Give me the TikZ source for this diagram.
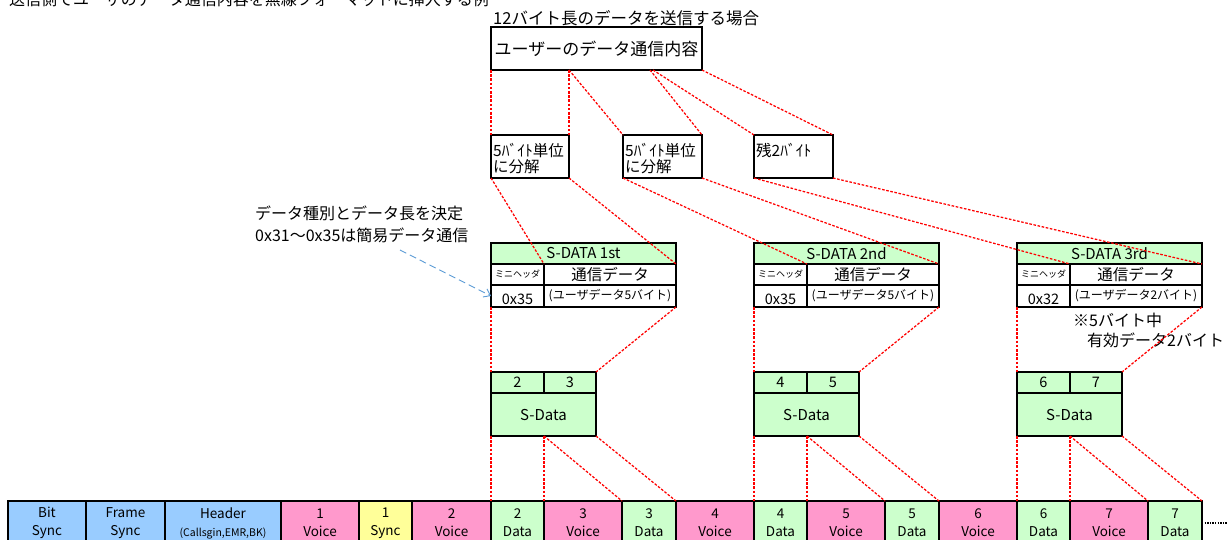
\documentclass[tikz,border=0pt]{standalone}
\usepackage{fontspec}
\setmainfont{Noto Sans CJK JP}
\usetikzlibrary{arrows.meta,calc}
\definecolor{cblue}{HTML}{99CCFF}
\definecolor{cpink}{HTML}{FF99CC}
\definecolor{cyel}{HTML}{FFFF99}
\definecolor{cgreen}{HTML}{CCFFCC}
\definecolor{carrow}{HTML}{5B9BD5}
\definecolor{cred}{HTML}{FF0000}
\newcommand{\myfs}[1]{\fontsize{#1}{#1}\selectfont}
\begin{document}
\begin{tikzpicture}[x=1pt,y=-1pt,
  bx/.style={draw=black,line width=1.6pt,inner sep=0pt,outer sep=0pt,anchor=north west},
  rl/.style={draw=cred,line width=1.25pt,dash pattern=on 2.6pt off 1.6pt},
  lbl/.style={inner sep=0pt,anchor=base west},
  cell/.style={bx,minimum height=44pt,align=center,font={\fontsize{13.5}{18}\selectfont}},
  tb/.style={bx,minimum height=21pt},
  dotline/.style={draw=black,line width=2.6pt,dash pattern=on 1.3pt off 1.3pt}]
\useasboundingbox (0,0) rectangle (1228,540);

% title (cut at top, as in the reference)
\node[lbl,font=\myfs{16}] (title) at (9,6) {送信側でユーザのデータ通信内容を無線フォーマットに挿入する例};
\node[lbl,font=\myfs{16.5}] (sub) at (493,25) {12バイト長のデータを送信する場合};

% main box
\node[bx,minimum width=211pt,minimum height=43pt,font=\myfs{17}] (main) at (491,27) {ユーザーのデータ通信内容};

% split boxes
\node[bx,minimum width=78pt,minimum height=43pt] (b1) at (491,135) {};
\node[bx,minimum width=79pt,minimum height=43pt] (b2) at (623,135) {};
\node[bx,minimum width=79pt,minimum height=43pt] (b3) at (754,135) {};
\node[lbl,font=\myfs{15.5}] (b1t1) at (493,157) {5ﾊﾞｲﾄ単位};
\node[lbl,font=\myfs{15.5}] (b1t2) at (493,173) {に分解};
\node[lbl,font=\myfs{15.5}] (b2t1) at (625,157) {5ﾊﾞｲﾄ単位};
\node[lbl,font=\myfs{15.5}] (b2t2) at (625,173) {に分解};
\node[lbl,font=\myfs{15.5}] (b3t1) at (756,157) {残2ﾊﾞｲﾄ};

% annotation
\node[lbl,font=\myfs{16}] (ann1) at (255,219) {データ種別とデータ長を決定};
\node[lbl,font=\myfs{16}] (ann2) at (255,241) {0x31～0x35は簡易データ通信};
\coordinate (arrs) at (400,250);

% S-DATA tables and S-Data blocks
\foreach \X/\i/\ord/\hd/\n in {491/1/1st/0x35/5, 754/2/2nd/0x35/5, 1017/3/3rd/0x32/2}{
  \node[tb,fill=cgreen,minimum width=185pt,font=\myfs{15}] (h\i) at (\X,243) {S-DATA \ord};
  \node[tb,minimum width=53pt,font=\myfs{9}] (m\i) at (\X,264) {ミニヘッダ};
  \node[tb,minimum width=132pt,font=\myfs{15.5}] (d\i) at (\X+53,264) {通信データ};
  \node[bx,minimum width=53pt,minimum height=22pt] (v\i) at (\X,285) {};
  \node[font=\myfs{14.5}] (vt\i) at ($(v\i.center)+(0,3)$) {\hd};
  \node[bx,minimum width=132pt,minimum height=22pt,font=\myfs{12}] (e\i) at (\X+53,285) {(ユーザデータ\n バイト)};
  \node[tb,fill=cgreen,minimum width=53pt] (sa\i) at (\X,372) {};
  \node[tb,fill=cgreen,minimum width=52pt] (sb\i) at (\X+53,372) {};
  \node[bx,fill=cgreen,minimum width=105pt,minimum height=43pt,font=\myfs{15}] (sc\i) at (\X,393) {S-Data};
}
\node[font=\myfs{14.5}] (n2) at (sa1) {2};
\node[font=\myfs{14.5}] (n3) at (sb1) {3};
\node[font=\myfs{14.5}] (n4) at (sa2) {4};
\node[font=\myfs{14.5}] (n5) at (sb2) {5};
\node[font=\myfs{14.5}] (n6) at (sa3) {6};
\node[font=\myfs{14.5}] (n7) at (sb3) {7};

\node[lbl,font=\myfs{16}] (note1) at (1073,326) {※5バイト中};
\node[lbl,font=\myfs{16}] (note2) at (1087,346) {有効データ2バイト};

% bottom frame row
\node[cell,fill=cblue,minimum width=78pt] (BS) at (8,501) {Bit\\Sync};
\node[cell,fill=cblue,minimum width=79pt] (FS) at (86,501) {Frame\\Sync};
\node[cell,fill=cblue,minimum width=116pt] (HD) at (165,501) {Header\\{\fontsize{10.5}{12}\selectfont (Callsgin,EMR,BK)}};
\node[cell,fill=cpink,minimum width=78pt] (V1) at (281,501) {1\\Voice};
\node[cell,fill=cyel,minimum width=53pt] (S1) at (359,501) {1\\Sync};
\node[cell,fill=cpink,minimum width=79pt] (V2) at (412,501) {2\\Voice};
\node[cell,fill=cgreen,minimum width=53pt] (D2) at (491,501) {2\\Data};
\node[cell,fill=cpink,minimum width=78pt] (V3) at (544,501) {3\\Voice};
\node[cell,fill=cgreen,minimum width=54pt] (D3) at (622,501) {3\\Data};
\node[cell,fill=cpink,minimum width=78pt] (V4) at (676,501) {4\\Voice};
\node[cell,fill=cgreen,minimum width=53pt] (D4) at (754,501) {4\\Data};
\node[cell,fill=cpink,minimum width=78pt] (V5) at (807,501) {5\\Voice};
\node[cell,fill=cgreen,minimum width=54pt] (D5) at (885,501) {5\\Data};
\node[cell,fill=cpink,minimum width=78pt] (V6) at (939,501) {6\\Voice};
\node[cell,fill=cgreen,minimum width=53pt] (D6) at (1017,501) {6\\Data};
\node[cell,fill=cpink,minimum width=78pt] (V7) at (1070,501) {7\\Voice};
\node[cell,fill=cgreen,minimum width=54pt] (D7) at (1148,501) {7\\Data};
\coordinate (dotend) at (1232,523);
\draw[dotline] (D7.east) -- (dotend);

% red dashed connectors
\coordinate (mA) at (569,70);
\coordinate (mB) at (650,70);
\coordinate (mC) at (653,70);
\draw[rl] (main.south west) -- (b1.north west);
\draw[rl] (mA) -- (b1.north east);
\draw[rl] (mA) -- (b2.north west);
\draw[rl] (mB) -- (b2.north east);
\draw[rl] (mC) -- (b3.north west);
\draw[rl] (main.south east) -- (b3.north east);

\draw[rl] (b1.south west) -- (d1.north west);
\draw[rl] (b1.south east) -- (d1.north east);
\draw[rl] (b2.south west) -- (d2.north west);
\draw[rl] (b2.south east) -- (d2.north east);
\draw[rl] (b3.south west) -- (d3.north west);
\draw[rl] (b3.south east) -- (d3.north east);

\foreach \i in {1,2,3}{
  \draw[rl] (v\i.south west) -- (sa\i.north west);
  \draw[rl] (e\i.south east) -- (sb\i.north east);
  \coordinate (cm\i) at (sb\i.south west |- sc\i.south);
}
\draw[rl] (sc1.south west) -- (D2.north west);
\draw[rl] (cm1) -- (D2.north east);
\draw[rl] (cm1) -- (D3.north west);
\draw[rl] (sc1.south east) -- (D3.north east);
\draw[rl] (sc2.south west) -- (D4.north west);
\draw[rl] (cm2) -- (D4.north east);
\draw[rl] (cm2) -- (D5.north west);
\draw[rl] (sc2.south east) -- (D5.north east);
\draw[rl] (sc3.south west) -- (D6.north west);
\draw[rl] (cm3) -- (D6.north east);
\draw[rl] (cm3) -- (D7.north west);
\draw[rl] (sc3.south east) -- (D7.north east);

% blue dashed arrow
\draw[draw=carrow,line width=0.9pt,dash pattern=on 7pt off 4pt,-{Straight Barb[length=6pt,width=9pt]}] (arrs) -- (v1.west);
\end{tikzpicture}
\end{document}
